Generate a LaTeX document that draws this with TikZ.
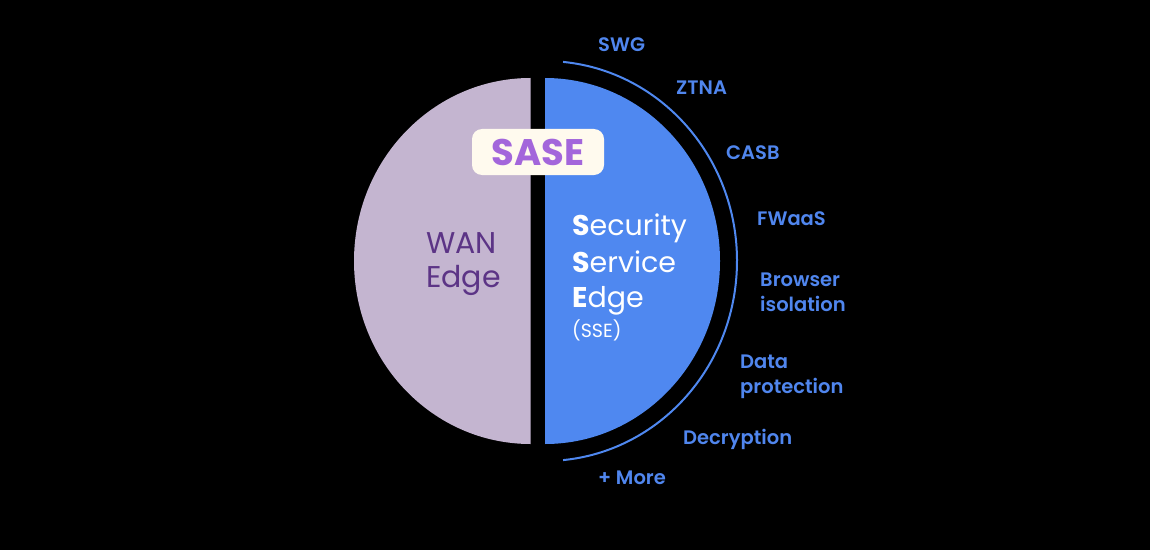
\documentclass[tikz,border=0pt]{standalone}
\usepackage{fontspec}
\setmainfont{Poppins}
\newfontfamily\medfont{Poppins}[UprightFont={* SemiBold}]
\definecolor{lav}{RGB}{196,181,208}
\definecolor{sblue}{RGB}{79,136,240}
\definecolor{lblue}{RGB}{80,134,238}
\definecolor{wanpurple}{RGB}{92,52,134}
\definecolor{sasepurple}{RGB}{163,102,219}
\definecolor{cream}{RGB}{255,250,238}
\tikzset{
  lab/.style={text=lblue, font=\medfont\fontsize{19.5}{25}\selectfont, inner sep=0pt, align=left},
  sseline/.style={text=white, font=\fontsize{28.5}{36}\selectfont, inner sep=0pt, anchor=base west},
  wanline/.style={text=wanpurple, font=\fontsize{30}{34}\selectfont, inner sep=0pt, anchor=base west},
}
\begin{document}
\begin{tikzpicture}[x=1pt,y=1pt]
\fill[black] (0,0) rectangle (1150,550);
\useasboundingbox (0,0) rectangle (1150,550);
% halves
\fill[lav] (530.5,472) arc[start angle=90,end angle=270,x radius=176.5pt,y radius=183pt] -- cycle;
\fill[sblue] (545,472) arc[start angle=90,end angle=-90,x radius=175pt,y radius=183pt] -- cycle;
% outer arc
\coordinate (c) at (545,289);
\draw[sblue, line width=2pt] (c) ++(84.6:192pt and 200pt) arc[start angle=84.6,end angle=-84.6,x radius=192pt,y radius=200pt];
% SASE pill
\node[fill=cream, rounded corners=10pt, minimum width=132pt, minimum height=46pt, inner sep=0pt,
      text=sasepurple, font=\bfseries\fontsize{37}{40}\selectfont] (sase) at (538,398) {SASE};
% WAN Edge
\node[wanline] (wan1) at (426,297) {WAN};
\node[wanline] (wan2) at (426,263) {Edge};
% SSE
\node[sseline] (sse1) at (572,315) {\textbf{S}ecurity};
\node[sseline] (sse2) at (572,278) {\textbf{S}ervice};
\node[sseline] (sse3) at (572,243) {\textbf{E}dge};
\node[sseline, font=\fontsize{19}{22}\selectfont] (sse4) at (572,213) {(SSE)};
% labels
\node[lab, anchor=base west] (swg) at (598,498) {SWG};
\node[lab, anchor=base west] (ztna) at (676,455) {ZTNA};
\node[lab, anchor=base west] (casb) at (726,391) {CASB};
\node[lab, anchor=base west] (fwaas) at (757,325) {FWaaS};
\node[lab, anchor=west] (bi) at (760,258) {Browser\\isolation};
\node[lab, anchor=west] (dp) at (740,173) {Data\\protection};
\node[lab, anchor=base west] (dec) at (683,106) {Decryption};
\node[lab, anchor=base west] (more) at (598,66) {+ More};
\end{tikzpicture}
\end{document}
